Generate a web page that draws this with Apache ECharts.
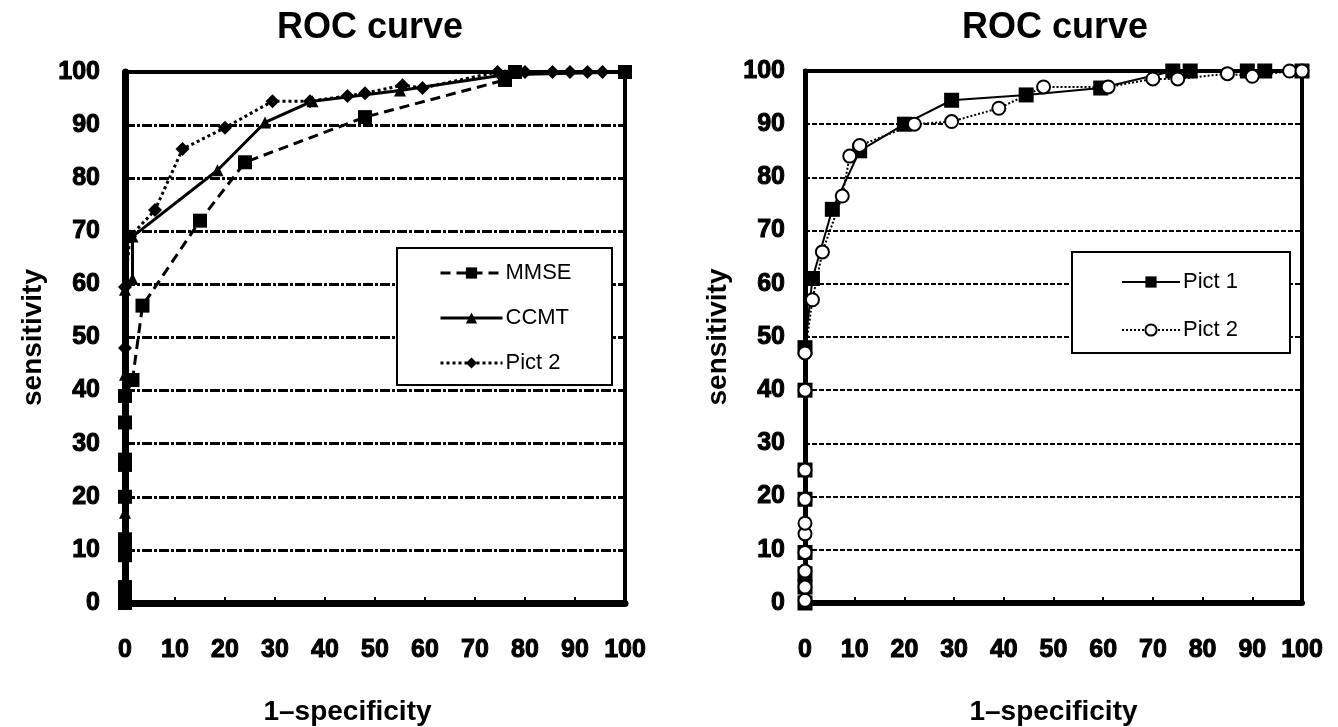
<!DOCTYPE html>
<html>
<head>
<meta charset="utf-8">
<script src="https://cdn.jsdelivr.net/npm/echarts@6/dist/echarts.min.js"></script>
<style>html,body{margin:0;padding:0;background:#fff;}#c{width:1338px;height:727px;}</style>
</head>
<body>
<div id="c"></div>
<script>
// ---- data ----
var xTicks = [0,10,20,30,40,50,60,70,80,90,100];

// left chart
var mmseX = [0,0,0,0,0,0,0,0,0,0,0,0,1.5,3.5,15,24,48,76,78,100];
var mmseY = [0,1,2,3,9,11,12,20,26,27,34,39,42,56,72,83,91.5,98.5,100,100];
var ccmtX = [0,0,0,0,0,0,0,0,1.5,1.5,18.5,28,37.5,55,76,100];
var ccmtY = [0,2,4,10,17,27,43,59,61,69,81.5,90.5,94.5,96.5,99.5,100];
var pictL2X = [0,0,0,0,0,0,0,1,6,11.5,20,29.5,37,44.5,48,55.5,59.5,74.5,77.5,80,85.5,89,92.5,95.5,100];
var pictL2Y = [0,3,9,27,39,48,59.5,69,74,85.5,89.5,94.5,94.5,95.5,96,97.5,97,100,100,100,100,100,100,100,100];

// right chart
var pict1X = [0,0,0,0,0,0,0,0,1.5,5.5,11,20,29.5,44.5,59.5,74,77.5,89,92.5,100];
var pict1Y = [0,3,5.5,9.5,19.5,25,40,48,61,74,85,90,94.5,95.5,96.8,100,100,100,100,100];
var pict2X = [0,0,0,0,0,0,0,0,0,0,1.5,3.5,7.5,9,11,22,29.5,39,48,61,70,75,85,90,97.5,100];
var pict2Y = [0.5,3,6,9.5,13,15,19.5,25,40,47,57,66,76.5,84,86,90,90.5,93,97,97,98.5,98.5,99.5,99,100,100];

function zip(xs, ys){ var o=[]; for(var i=0;i<xs.length;i++){ o.push([xs[i], ys[i]]); } return o; }

var tickFont = {color:'#000', fontFamily:'Liberation Sans, Arial, sans-serif', fontWeight:'bold', fontSize:25, textBorderColor:'#000', textBorderWidth:1};
var nameFont = {color:'#000', fontFamily:'Liberation Sans, Arial, sans-serif', fontWeight:'bold', fontSize:28};

function xAx(idx, shift){
  return {
    gridIndex: idx, type:'value', min:0, max:100, interval:10,
    name:'1\u2013specificity', nameLocation:'middle', nameGap:95,
    nameTextStyle: Object.assign({}, nameFont, {padding:[0, shift, 0, 0]}),
    axisLine:{show:true, onZero:false, lineStyle:{color:'#000', width:idx===0?7:6}},
    axisTick:{show:true, inside:true, length:6, lineStyle:{color:'#000', width:2}},
    axisLabel: Object.assign({}, tickFont, {margin:35}),
    splitLine:{show:false}
  };
}
function yAx(idx, gridType, gap, margin){
  return {
    gridIndex: idx, type:'value', min:0, max:100, interval:10,
    name:'sensitivity', nameLocation:'middle', nameGap:gap, nameRotate:90,
    nameTextStyle: nameFont,
    axisLine:{show:true, onZero:false, lineStyle:{color:'#000', width:idx===0?7:5}},
    axisTick:{show:false},
    axisLabel: Object.assign({}, tickFont, {margin:margin}),
    splitLine:{show:true, lineStyle: gridType}
  };
}

var chart = echarts.init(document.getElementById('c'));
chart.setOption({
  backgroundColor:'#fff',
  animation:false,
  grid:[
    {left:125, top:72, width:500, height:531, show:true, borderColor:'#000', borderWidth:4, backgroundColor:'transparent', containLabel:false, outerBoundsMode:'none'},
    {left:805, top:71, width:497, height:532, show:true, borderColor:'#000', borderWidth:4, backgroundColor:'transparent', containLabel:false, outerBoundsMode:'none'}
  ],
  xAxis:[ xAx(0, 55), xAx(1, 0) ],
  yAxis:[
    yAx(0, {color:'#000', width:3, type:[10,2,3,2]}, 78, 25),
    yAx(1, {color:'#000', width:2, type:[5,2]}, 73, 20)
  ],
  graphic:[
    {type:'text', x:370, y:28, z:10, style:{text:'ROC curve', align:'center', verticalAlign:'middle', fill:'#000', font:'bold 36px "Liberation Sans", Arial, sans-serif'}},
    {type:'text', x:1055, y:28, z:10, style:{text:'ROC curve', align:'center', verticalAlign:'middle', fill:'#000', font:'bold 36px "Liberation Sans", Arial, sans-serif'}},
    {type:'rect', z:3, shape:{x:397, y:248, width:215, height:137}, style:{fill:'#fff', stroke:'#000', lineWidth:2}},
    {type:'rect', z:3, shape:{x:1072, y:252, width:218, height:101}, style:{fill:'#fff', stroke:'#000', lineWidth:2}}
  ],
  legend:[
    {
      z:10, orient:'vertical', left:439, top:262, itemWidth:62, itemHeight:14, itemGap:23, padding:0,
      lineStyle:{width:3},
      textStyle:{color:'#000', fontFamily:'Liberation Sans, Arial, sans-serif', fontSize:22, padding:[0,0,0,-2]},
      data:['MMSE','CCMT','Pict 2 ']
    },
    {
      z:10, orient:'vertical', left:1121, top:271, itemWidth:58, itemHeight:14, itemGap:26, padding:0,
      lineStyle:{width:2},
      textStyle:{color:'#000', fontFamily:'Liberation Sans, Arial, sans-serif', fontSize:22, padding:[0,0,0,-2]},
      data:['Pict 1','Pict 2']
    }
  ],
  series:[
    {name:'MMSE', type:'line', xAxisIndex:0, yAxisIndex:0, data:zip(mmseX, mmseY), clip:false, showAllSymbol:true,
      symbol:'rect', symbolSize:14, lineStyle:{color:'#000', width:3, type:[10,6]}, itemStyle:{color:'#000'}},
    {name:'CCMT', type:'line', xAxisIndex:0, yAxisIndex:0, data:zip(ccmtX, ccmtY), clip:false, showAllSymbol:true,
      symbol:'triangle', symbolSize:12, lineStyle:{color:'#000', width:3, type:'solid'}, itemStyle:{color:'#000'}},
    {name:'Pict 2 ', type:'line', xAxisIndex:0, yAxisIndex:0, data:zip(pictL2X, pictL2Y), clip:false, showAllSymbol:true,
      symbol:'diamond', symbolSize:14, lineStyle:{color:'#000', width:3, type:[3,3]}, itemStyle:{color:'#000'}},
    {name:'Pict 1', type:'line', xAxisIndex:1, yAxisIndex:1, data:zip(pict1X, pict1Y), clip:false, showAllSymbol:true,
      symbol:'rect', symbolSize:15, lineStyle:{color:'#000', width:2, type:'solid'}, itemStyle:{color:'#000'}},
    {name:'Pict 2', type:'line', xAxisIndex:1, yAxisIndex:1, data:zip(pict2X, pict2Y), clip:false, showAllSymbol:true, z:3,
      symbol:'circle', symbolSize:13, lineStyle:{color:'#000', width:2, type:[2,2]}, itemStyle:{color:'#fff', borderColor:'#000', borderWidth:2}}
  ]
});
</script>
</body>
</html>
